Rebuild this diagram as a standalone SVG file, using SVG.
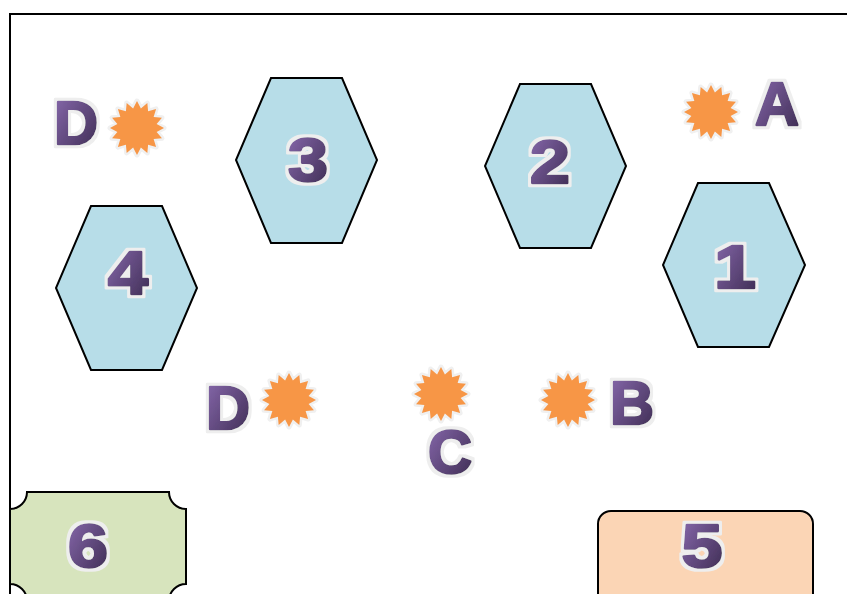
<svg xmlns="http://www.w3.org/2000/svg" width="847" height="594" viewBox="0 0 847 594">
<defs>
<linearGradient id="pg" x1="0" y1="0" x2="1" y2="1">
<stop offset="0" stop-color="#8a6bb0"/>
<stop offset="1" stop-color="#3b2a4f"/>
</linearGradient>
<filter id="halo" x="-20%" y="-20%" width="140%" height="140%">
<feMorphology in="SourceAlpha" operator="dilate" radius="2.5" result="d"/>
<feFlood flood-color="#eeeeee"/>
<feComposite in2="d" operator="in" result="h"/>
<feMerge><feMergeNode in="h"/><feMergeNode in="SourceGraphic"/></feMerge>
</filter>
<path id="star" d="M27,0 L19.62,3.90 L24.95,10.33 L16.63,11.11 L19.09,19.09 L11.11,16.63 L10.33,24.95 L3.90,19.62 L0,27 L-3.90,19.62 L-10.33,24.95 L-11.11,16.63 L-19.09,19.09 L-16.63,11.11 L-24.95,10.33 L-19.62,3.90 L-27,0 L-19.62,-3.90 L-24.95,-10.33 L-16.63,-11.11 L-19.09,-19.09 L-11.11,-16.63 L-10.33,-24.95 L-3.90,-19.62 L0,-27 L3.90,-19.62 L10.33,-24.95 L11.11,-16.63 L19.09,-19.09 L16.63,-11.11 L24.95,-10.33 L19.62,-3.90 Z"/>
</defs>
<style>
.hex{fill:#b7dde8;stroke:#000;stroke-width:2;stroke-linejoin:miter}
.lbl{font-family:"Liberation Sans",Arial,sans-serif;font-weight:bold;font-size:61px;fill:url(#pg);stroke:url(#pg);stroke-width:2.5;stroke-linejoin:round;text-anchor:middle;filter:url(#halo)}
.glow{fill:#f0f0f0;stroke:#f0f0f0;stroke-width:5;stroke-linejoin:round}
.st{fill:#f79646}
</style>
<rect width="847" height="594" fill="#fff"/>
<g id="frame"><path d="M847,14 H10 V594" fill="none" stroke="#000" stroke-width="2"/></g>
<g id="connectors"></g>
<g id="node3"><polygon class="hex" points="271,78 342,78 377,160 342,243 271,243 236,160"/><text class="lbl" x="308" y="181" textLength="40" lengthAdjust="spacingAndGlyphs">3</text></g>
<g id="node2"><polygon class="hex" points="520,84 591,84 626,166 591,248 520,248 485,166"/><text class="lbl" x="550" y="183" textLength="40" lengthAdjust="spacingAndGlyphs">2</text></g>
<g id="node4"><polygon class="hex" points="91,206 162,206 197,288 162,370 91,370 56,288"/><text class="lbl" x="128" y="294" textLength="40" lengthAdjust="spacingAndGlyphs">4</text></g>
<g id="node1"><polygon class="hex" points="698,183 769,183 805,265 769,347 698,347 663,265"/><text class="lbl" x="735" y="288" textLength="42" lengthAdjust="spacingAndGlyphs">1</text></g>
<g id="node6"><path d="M27,492 H169 A17,17 0 0 0 186,509 V584 A17,17 0 0 0 169,601 H27 A17,17 0 0 0 10,584 V509 A17,17 0 0 0 27,492 Z" fill="#d7e4bd" stroke="#000" stroke-width="2"/><text class="lbl" x="88" y="567" textLength="40" lengthAdjust="spacingAndGlyphs">6</text></g>
<g id="node5"><rect x="598" y="511" width="215" height="100" rx="13" fill="#fbd5b5" stroke="#000" stroke-width="2"/><text class="lbl" x="702" y="567" textLength="41" lengthAdjust="spacingAndGlyphs">5</text></g>
<g id="starD1"><use href="#star" class="glow" x="137" y="128"/><use href="#star" class="st" x="137" y="128"/><text class="lbl" x="76" y="144">D</text></g>
<g id="starA"><use href="#star" class="glow" x="711" y="112"/><use href="#star" class="st" x="711" y="112"/><text class="lbl" x="777" y="125">A</text></g>
<g id="starD2"><use href="#star" class="glow" x="289" y="400"/><use href="#star" class="st" x="289" y="400"/><text class="lbl" x="228" y="429">D</text></g>
<g id="starC"><use href="#star" class="glow" x="441" y="394"/><use href="#star" class="st" x="441" y="394"/><text class="lbl" x="450" y="473">C</text></g>
<g id="starB"><use href="#star" class="glow" x="568" y="400"/><use href="#star" class="st" x="568" y="400"/><text class="lbl" x="632" y="424">B</text></g>
</svg>
